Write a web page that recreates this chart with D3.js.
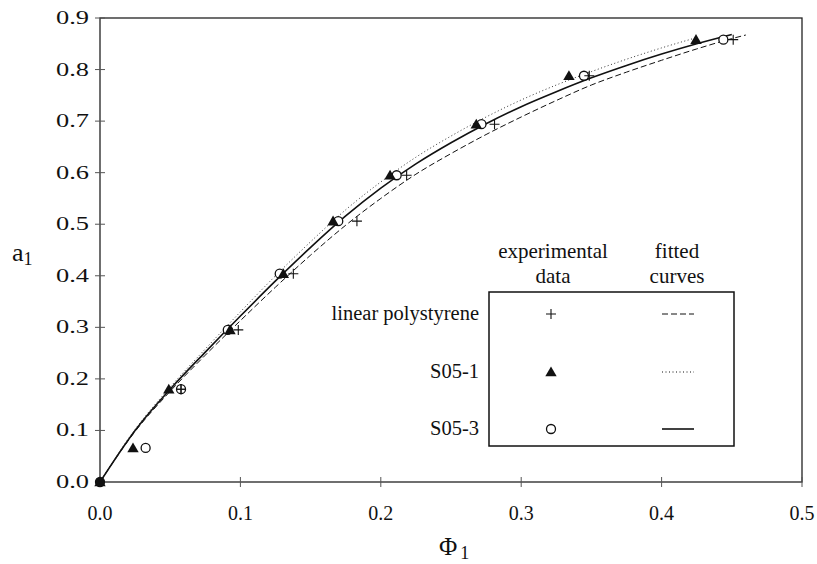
<!DOCTYPE html>
<html>
<head>
<meta charset="utf-8">
<script src="https://cdn.jsdelivr.net/npm/d3@7"></script>
<style>
  body { margin: 0; background: white; }
  text { font-family: "Liberation Serif", "Times New Roman", serif; fill: #111; }
</style>
</head>
<body>
<svg id="chart" width="817" height="564"></svg>
<script>
// measured activity levels (same for all three samples)
var aExp = [0, 0.066, 0.180, 0.295, 0.404, 0.506, 0.595, 0.694, 0.788, 0.858]

// experimental volume fractions
var phiPS   = [0, 0.0577, 0.0577, 0.0985, 0.1377, 0.183, 0.2184, 0.281, 0.3485, 0.451]
var aPS     = [0, 0.180, 0.180, 0.295, 0.404, 0.506, 0.595, 0.694, 0.788, 0.858]
var phiS051 = [0, 0.0235, 0.049, 0.0926, 0.1306, 0.166, 0.2066, 0.268, 0.334, 0.4245]
var phiS053 = [0, 0.0325, 0.0577, 0.091, 0.128, 0.1697, 0.2113, 0.2717, 0.3447, 0.444]

// fitted curves
var phiFit  = [0, 0.025, 0.05, 0.075, 0.10, 0.125, 0.15, 0.175, 0.20, 0.225, 0.25, 0.275, 0.30, 0.325, 0.35, 0.375, 0.40, 0.425, 0.45]
var fitPS   = [0, 0.098, 0.176, 0.246, 0.313, 0.378, 0.440, 0.498, 0.550, 0.597, 0.637, 0.674, 0.708, 0.740, 0.770, 0.795, 0.818, 0.840, 0.860]
var fitS051 = [0, 0.102, 0.184, 0.258, 0.330, 0.400, 0.466, 0.528, 0.582, 0.630, 0.671, 0.708, 0.741, 0.770, 0.796, 0.820, 0.842, 0.862]
var fitS053 = [0, 0.100, 0.180, 0.252, 0.322, 0.390, 0.455, 0.516, 0.570, 0.617, 0.658, 0.695, 0.728, 0.757, 0.784, 0.808, 0.830, 0.850, 0.868]
var psEnd = [0.46, 0.867]

var xTicks = [0, 0.1, 0.2, 0.3, 0.4, 0.5]
var yTicks = [0, 0.1, 0.2, 0.3, 0.4, 0.5, 0.6, 0.7, 0.8, 0.9]

var legendRows = ['linear polystyrene', 'S05-1', 'S05-3']

var svg = d3.select('#chart')

var x = d3.scaleLinear().domain([0, 0.5]).range([100, 802])
var y = d3.scaleLinear().domain([0, 0.9]).range([482, 18])

// frame
svg.append('rect')
	.attr('x', x(0)).attr('y', y(0.9))
	.attr('width', x(0.5) - x(0)).attr('height', y(0) - y(0.9))
	.attr('fill', 'none').attr('stroke', '#222').attr('stroke-width', 1.3)

// ticks, crossing the axis lines
svg.append('g').selectAll('line')
	.data(yTicks)
	.enter().append('line')
		.attr('x1', 95).attr('x2', 105)
		.attr('y1', d => y(d)).attr('y2', d => y(d))
		.attr('stroke', '#555').attr('stroke-width', 1)

svg.append('g').selectAll('line')
	.data(xTicks)
	.enter().append('line')
		.attr('x1', d => x(d)).attr('x2', d => x(d))
		.attr('y1', 477).attr('y2', 487)
		.attr('stroke', '#555').attr('stroke-width', 1)

svg.append('g').selectAll('text')
	.data(yTicks)
	.enter().append('text')
		.attr('x', 56).attr('y', d => y(d) + 6)
		.attr('textLength', 33).attr('lengthAdjust', 'spacingAndGlyphs')
		.style('font-size', '18px')
		.text(d => d3.format('.1f')(d))

svg.append('g').selectAll('text')
	.data(xTicks)
	.enter().append('text')
		.attr('x', d => x(d)).attr('y', 520)
		.attr('text-anchor', 'middle')
		.style('font-size', '20px')
		.text(d => d3.format('.1f')(d))

// axis titles
var yt = svg.append('text').attr('x', 12).attr('y', 261).style('font-size', '26px')
yt.append('tspan').text('a')
yt.append('tspan').attr('dy', 4).style('font-size', '18px').text('1')

var xt = svg.append('text').attr('x', 439).attr('y', 555).style('font-size', '25px')
xt.append('tspan').text('Φ')
xt.append('tspan').attr('dx', 3).attr('dy', 4).style('font-size', '18px').text('1')

// fitted curves
var line = d3.line()
	.x(d => x(d[0]))
	.y(d => y(d[1]))
	.curve(d3.curveMonotoneX)

var psPts = d3.zip(phiFit, fitPS).concat([psEnd])
var s1Pts = d3.zip(phiFit, fitS051)
var s3Pts = d3.zip(phiFit, fitS053)

svg.append('path').attr('d', line(psPts))
	.attr('fill', 'none').attr('stroke', '#111').attr('stroke-width', 1)
	.attr('stroke-dasharray', '6,3')
svg.append('path').attr('d', line(s1Pts))
	.attr('fill', 'none').attr('stroke', '#333').attr('stroke-width', 1)
	.attr('stroke-dasharray', '1,2.5')
svg.append('path').attr('d', line(s3Pts))
	.attr('fill', 'none').attr('stroke', '#111').attr('stroke-width', 1.6)

// markers
var tri = d3.symbol().type(d3.symbolTriangle).size(56)

function plus(g, px, py) {
	g.append('path')
		.attr('d', 'M' + (px - 5) + ',' + py + 'H' + (px + 5) + 'M' + px + ',' + (py - 5) + 'V' + (py + 5))
		.attr('stroke', '#111').attr('stroke-width', 1.1)
}

var marks = svg.append('g')

d3.zip(phiS053, aExp).forEach(function(d) {
	marks.append('circle')
		.attr('cx', x(d[0])).attr('cy', y(d[1])).attr('r', 4.5)
		.attr('fill', 'white').attr('stroke', '#111').attr('stroke-width', 1.3)
})
d3.zip(phiS051, aExp).forEach(function(d) {
	marks.append('path')
		.attr('d', tri)
		.attr('transform', 'translate(' + x(d[0]) + ',' + (y(d[1]) + 1) + ')')
		.attr('fill', '#111')
})
d3.zip(phiPS, aPS).forEach(function(d) {
	plus(marks, x(d[0]), y(d[1]))
})
// origin point shows as a solid blob
marks.append('circle').attr('cx', x(0)).attr('cy', y(0)).attr('r', 4.5).attr('fill', '#111')

// legend
var lg = svg.append('g')
lg.append('rect')
	.attr('x', 489).attr('y', 292).attr('width', 245).attr('height', 154)
	.attr('fill', 'white').attr('stroke', '#111').attr('stroke-width', 1.5)

lg.append('text').attr('x', 553).attr('y', 258).attr('text-anchor', 'middle').style('font-size', '21px').text('experimental')
lg.append('text').attr('x', 553).attr('y', 283).attr('text-anchor', 'middle').style('font-size', '21px').text('data')
lg.append('text').attr('x', 677).attr('y', 258).attr('text-anchor', 'middle').style('font-size', '21px').text('fitted')
lg.append('text').attr('x', 677).attr('y', 283).attr('text-anchor', 'middle').style('font-size', '21px').text('curves')

var rowY = [314, 372, 429]
lg.selectAll('text.row')
	.data(legendRows)
	.enter().append('text')
		.attr('class', 'row')
		.attr('x', 479).attr('y', (d, i) => rowY[i] + 6)
		.attr('text-anchor', 'end')
		.style('font-size', '20.5px')
		.text(d => d)

plus(lg, 551, rowY[0])
lg.append('path').attr('d', tri).attr('transform', 'translate(551,' + (rowY[1] + 1) + ')').attr('fill', '#111')
lg.append('circle').attr('cx', 551).attr('cy', rowY[2]).attr('r', 4.5)
	.attr('fill', 'white').attr('stroke', '#111').attr('stroke-width', 1.3)

var dashes = ['6,3', '1,2.5', null]
var widths = [1, 1, 1.6]
rowY.forEach(function(ry, i) {
	lg.append('line')
		.attr('x1', 662).attr('x2', 694).attr('y1', ry).attr('y2', ry)
		.attr('stroke', '#111').attr('stroke-width', widths[i])
		.attr('stroke-dasharray', dashes[i])
})
</script>
</body>
</html>
